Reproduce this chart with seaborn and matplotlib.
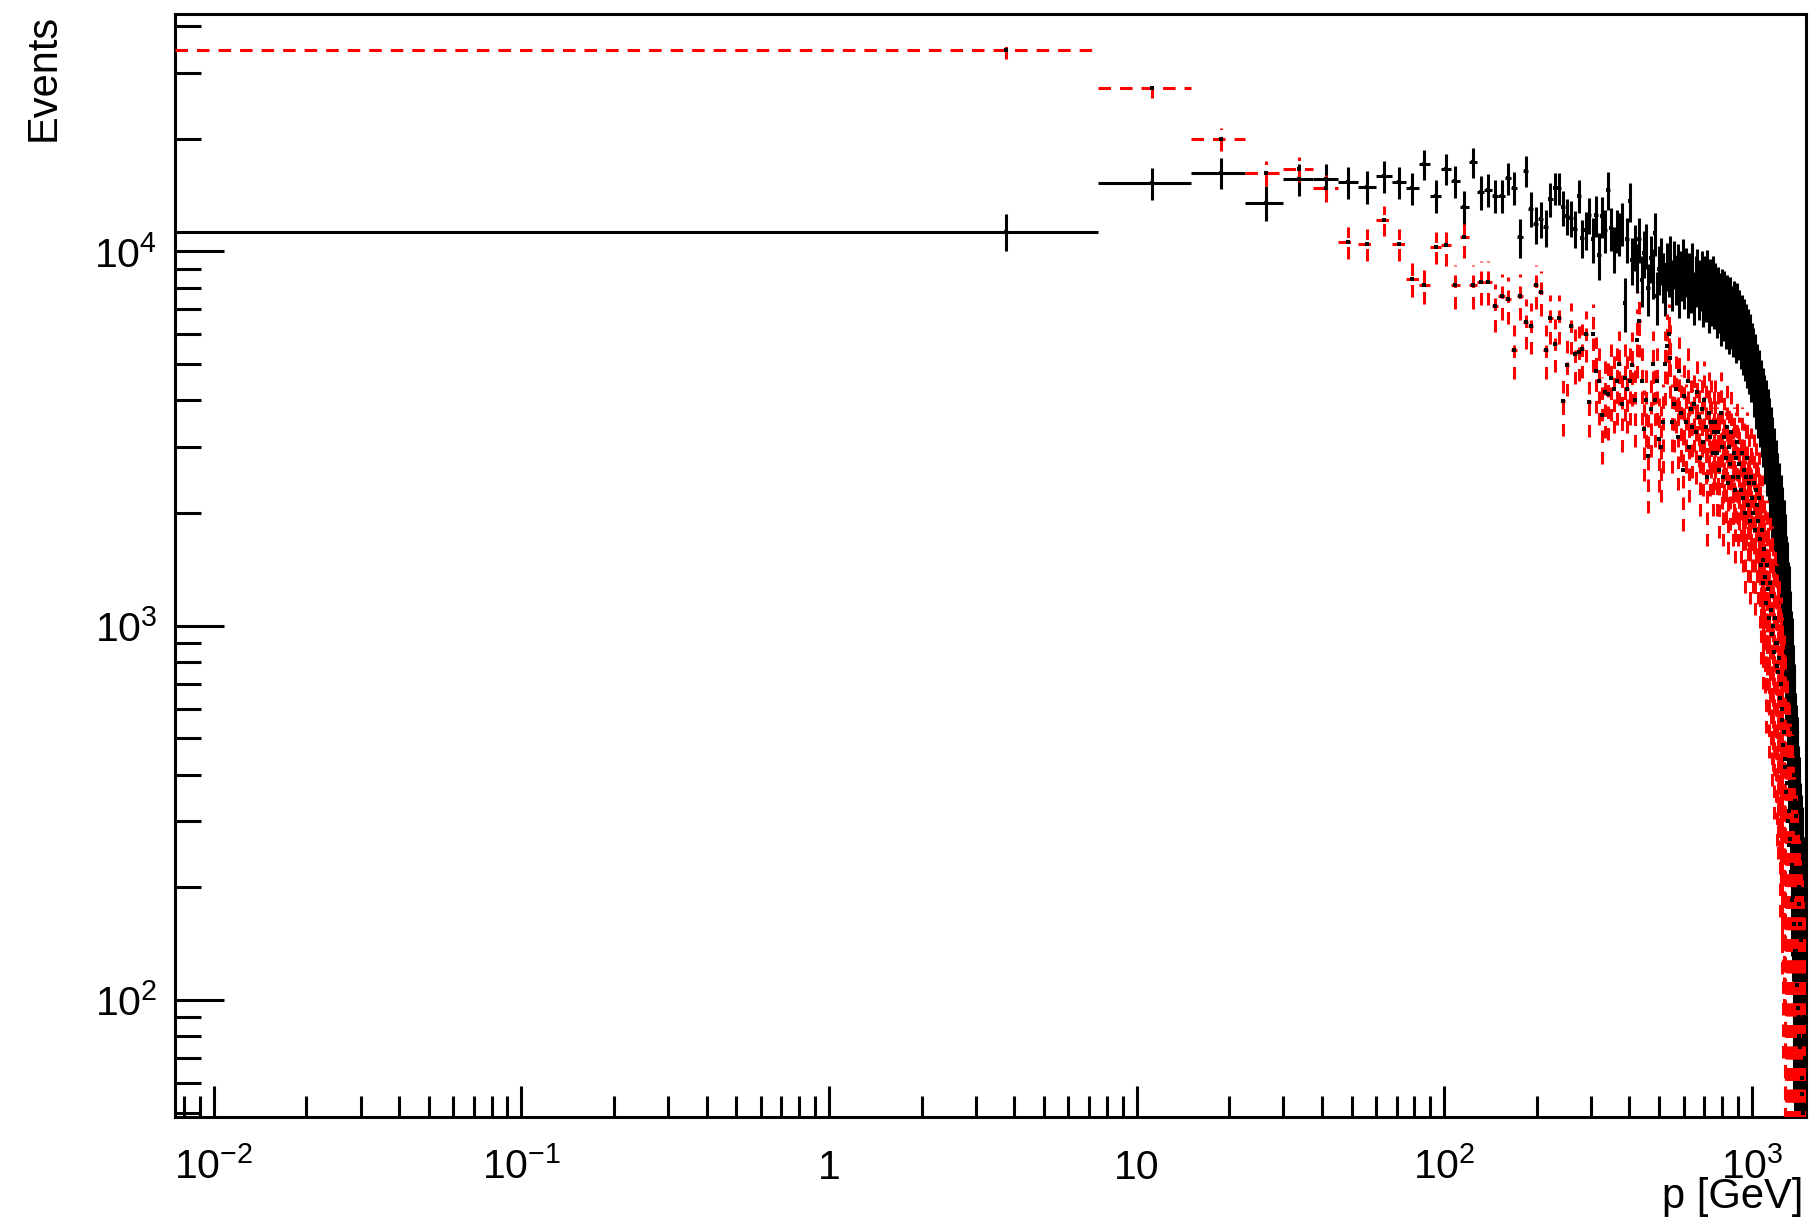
import numpy as np
import pandas as pd
import matplotlib
matplotlib.use("Agg")
import matplotlib.pyplot as plt
import seaborn as sns
from matplotlib.ticker import LogLocator, NullFormatter, FixedLocator, FixedFormatter

# ---------------- data ----------------
bin_width = 7.5          # GeV
n_bins = 200

black_counts = [
    11300, 15200, 16200, 13500, 15600, 15600, 15300, 14900, 15900, 15300,
    14750, 17100, 14100, 16600, 15400, 13100, 17300, 14400, 14600, 14100,
    14100, 15700, 14800, 10900, 16400, 13000, 11800, 12200, 11600, 13800,
    14750, 14750, 13100, 12400, 12300, 11500,
    14100, 10850, 11400, 12500, 10800, 12500, 9800, 12400, 11400, 14600,
    11550, 10200, 11400, 11200, 11900,
    7300, 10800, 13600, 9500, 10300, 9100, 10800, 8400, 9900, 10400,
    8000, 9600, 8800, 11200, 7600, 9000, 9500, 8600, 8000, 9200,
    8900, 9600, 8200, 9300, 8500, 9100, 7900, 8700, 9400, 8300,
    8900, 7900, 8600, 8100, 9200, 7600, 8400, 8800, 7800, 8200,
    8700, 7500, 8300, 7900, 8600, 7400, 8100, 7700, 8300, 7600,
    7900, 7200, 7700, 7400, 6900, 7600, 7100, 7500, 6800, 7300,
    7000, 6600, 7200, 6800, 6500, 7000, 6700, 6300, 6900, 6400,
    6600, 6100, 6400, 5900, 6200, 5700, 6000, 5500, 5800, 5300,
    5600, 5100, 5300,
    5100, 4700, 4900, 4400, 4600, 4200, 4400, 4000, 4100, 3800,
    3900, 3600, 3700, 3400, 3500, 3200, 3300,
    3100, 2800, 2900, 2600, 2700, 2400, 2500, 2200, 2300, 2050,
    2100, 1900, 1950, 1750, 1800, 1600, 1650, 1500, 1500, 1350,
    1300, 1150, 1100, 950, 920, 800, 760, 650, 620, 530,
    500, 430, 400, 340, 310,
    280, 250, 220, 200, 180, 160, 145, 130, 115, 100,
    90, 80, 70, 60,
]

red_counts = [
    34600, 27400, 20000, 16200, 16600, 14750, 10600, 10450, 12100, 10450,
    8460, 8120, 10260, 10400, 8120, 10900, 8120, 8300, 8300, 7140,
    7620, 7460, 5460, 7620, 6460, 6300, 8120, 7780, 5460, 6640,
    5670, 6640, 3990, 4980, 6300, 5320,
    5400, 5500, 6000, 3970, 6000, 4800, 4500, 3660, 4200, 4150,
    4600, 4300, 4500, 5000, 3900,
    4600, 4300, 4500, 4970, 4000, 5800, 6500, 4500, 3350, 4000,
    2840, 3800, 5000, 4000, 4500, 3160, 3000, 3500, 5000, 5600,
    6000, 5200, 3500,
    3900, 4300, 3200, 4800, 3700, 2600, 4100,
    3500, 4500, 3000, 3800, 3400, 3900, 3300, 4200, 3600, 2800,
    3800, 3100, 4000, 3400, 2500, 3700, 3200, 3500, 2900, 3300,
    3500, 2900, 3300, 2600, 3700, 3000, 2500, 3200, 2800, 3400,
    2400, 3000, 2700, 3300, 2500, 2900, 2300, 2800, 3100, 2500,
    2700, 2300, 2900, 2200, 2600, 2000, 2500, 2800, 2100, 2400,
    1900, 2500, 2200, 2000, 2400, 1800, 2300, 2100, 1900, 2200,
    1700, 1450, 1800, 1500, 1300, 1600, 1350, 1150, 1450, 1250,
    1050, 1300, 1100, 950, 1200, 1000, 850, 1050, 900, 780,
    900, 750, 820, 640, 700, 560, 600, 480, 520, 420,
    440, 360, 380, 300, 320, 260, 270, 220, 230, 185,
    190, 160, 160, 135, 135, 115, 110, 95, 90, 80,
    75, 68, 62, 56, 50, 45, 40, 35, 30,
]

# per-event weights (sum-of-weights-squared error model), by momentum range
weight_range_edges = [0, 100, 300, 700, 1100, 1500]
black_weights = [150, 150, 200, 250, 300]
red_weights = [100, 150, 250, 300, 350]

x_tick_values = [1e-2, 1e-1, 1, 10, 1e2, 1e3]
x_tick_labels = [r"$10^{-2}$", r"$10^{-1}$", "1", "10", r"$10^{2}$", r"$10^{3}$"]
y_tick_values = [1e2, 1e3, 1e4]
y_tick_labels = [r"$10^{2}$", r"$10^{3}$", r"$10^{4}$"]
x_title = "p [GeV]"
y_title = "Events"

assert len(black_counts) == n_bins and len(red_counts) == n_bins

# ---------------- style ----------------
sns.set_theme(style="ticks")
plt.rcParams["font.family"] = ["Liberation Sans", "DejaVu Sans"]
plt.rcParams["mathtext.fontset"] = "custom"
plt.rcParams["mathtext.rm"] = "Liberation Sans"
plt.rcParams["mathtext.it"] = "Liberation Sans:italic"
plt.rcParams["mathtext.bf"] = "Liberation Sans:bold"
plt.rcParams["lines.scale_dashes"] = False
for k in ["text.color", "axes.labelcolor", "xtick.color", "ytick.color",
          "axes.edgecolor", "xtick.labelcolor", "ytick.labelcolor"]:
    plt.rcParams[k] = "black"

W, H = 1809, 1230
fig = plt.figure(figsize=(W / 100, H / 100), dpi=100)
fig.patch.set_facecolor("white")
ax_l, ax_r, ax_t, ax_b = 175.4, 1806.0, 14.0, 1117.0
ax = fig.add_axes([ax_l / W, (H - ax_b) / H, (ax_r - ax_l) / W, (ax_b - ax_t) / H])
ax.set_facecolor("white")

edges = np.arange(n_bins + 1) * bin_width
centers = 0.5 * (edges[:-1] + edges[1:])
x_min = 1e-3 * edges[1]
x_max = edges[-1]
lo_edge = np.maximum(edges[:-1], x_min)
xerr = np.vstack([centers - lo_edge, edges[1:] - centers])

range_idx = np.clip(np.searchsorted(weight_range_edges, centers, side="right") - 1,
                    0, len(black_weights) - 1)

df = pd.DataFrame({
    "p": np.concatenate([centers, centers]),
    "events": np.concatenate([black_counts, red_counts]).astype(float),
    "weight": np.concatenate([np.array(black_weights)[range_idx],
                              np.array(red_weights)[range_idx]]).astype(float),
    "series": ["black"] * n_bins + ["red"] * n_bins,
})
df["err"] = np.sqrt(df["weight"] * df["events"])

ax.set_xscale("log")
ax.set_yscale("log", nonpositive="clip")

lw = 2.2
for name, color, dashed in [("black", "black", False), ("red", "#ff0000", True)]:
    sub = df[df["series"] == name]
    eb = ax.errorbar(sub["p"].values, sub["events"].values, xerr=xerr,
                     yerr=sub["err"].values, fmt="none", ecolor=color,
                     elinewidth=lw, capsize=0, zorder=2 if not dashed else 3)
    if dashed:
        for coll in eb[2]:
            coll.set_linestyle((0, (9.0, 6.5)))
    sns.scatterplot(data=sub, x="p", y="events", ax=ax, color="black",
                    marker="s", s=5, linewidth=0, legend=False,
                    zorder=4)

ax.set_xlim(x_min, x_max)
ax.set_ylim(48.7, 43070)

# ticks
ax.xaxis.set_major_locator(FixedLocator(x_tick_values))
ax.xaxis.set_major_formatter(FixedFormatter(x_tick_labels))
ax.xaxis.set_minor_locator(LogLocator(base=10, subs=np.arange(2, 10), numticks=30))
ax.xaxis.set_minor_formatter(NullFormatter())
ax.yaxis.set_major_locator(FixedLocator(y_tick_values))
ax.yaxis.set_major_formatter(FixedFormatter(y_tick_labels))
ax.yaxis.set_minor_locator(LogLocator(base=10, subs=np.arange(2, 10), numticks=30))
ax.yaxis.set_minor_formatter(NullFormatter())

ax.tick_params(axis="x", which="major", direction="in", length=22.5, width=lw,
               labelsize=29.5, pad=44.5, top=False, color="black", labelcolor="black")
ax.tick_params(axis="x", which="minor", direction="in", length=15, width=lw,
               top=False, color="black")
ax.tick_params(axis="y", which="major", direction="in", length=35.5, width=lw,
               labelsize=29.5, pad=13, right=False, color="black", labelcolor="black")
ax.tick_params(axis="y", which="minor", direction="in", length=18.5, width=lw,
               right=False, color="black")
for lab in ax.get_xticklabels():
    lab.set_verticalalignment("baseline")

for s in ax.spines.values():
    s.set_linewidth(lw)
    s.set_color("black")
    s.set_visible(True)
ax.grid(False)

# axis titles
ax.set_xlabel(x_title, fontsize=30, color="black")
ax.xaxis.label.set_horizontalalignment("right")
ax.xaxis.label.set_verticalalignment("baseline")
ax.xaxis.set_label_coords((1803 - ax_l) / (ax_r - ax_l), -(1208 - ax_b) / (ax_b - ax_t))

ax.set_ylabel(y_title, fontsize=30, color="black")
ax.yaxis.label.set_rotation_mode("default")
ax.yaxis.label.set_horizontalalignment("right")
ax.yaxis.label.set_verticalalignment("top")
ax.yaxis.set_label_coords((64 - ax_l) / (ax_r - ax_l), 1.0)

fig.savefig("out.png", dpi=100, facecolor="white")
